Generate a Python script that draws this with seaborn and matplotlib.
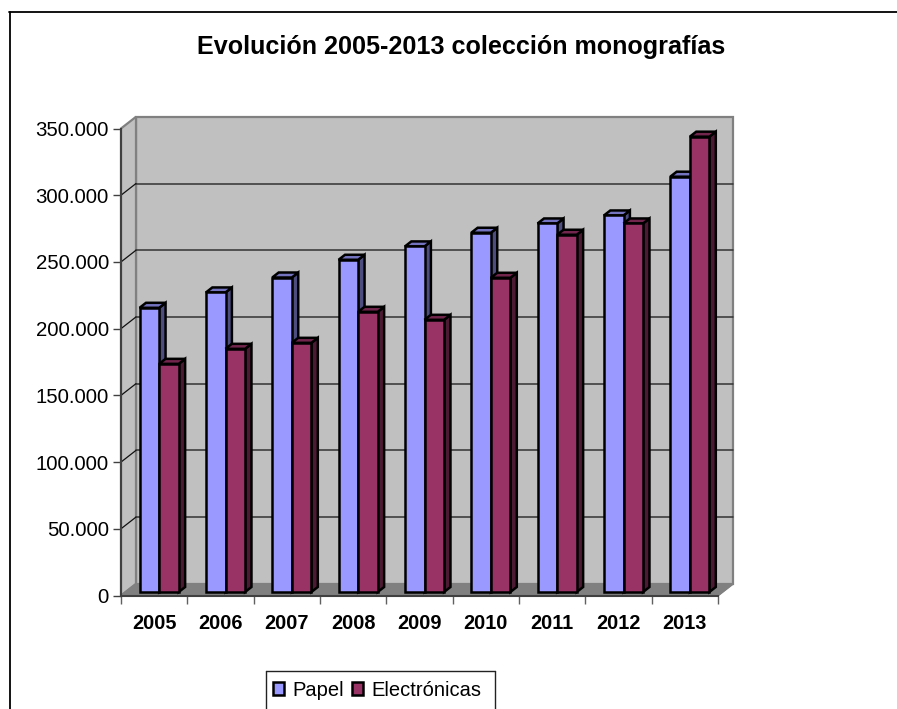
import pandas as pd
import seaborn as sns
import matplotlib
matplotlib.use("Agg")
import matplotlib.pyplot as plt
from matplotlib.lines import Line2D
from matplotlib.patches import Polygon
from matplotlib.transforms import Affine2D, IdentityTransform

# values
years = ["2005", "2006", "2007", "2008", "2009", "2010", "2011", "2012", "2013"]
papel = [213000, 224500, 235700, 249000, 259000, 269250, 276200, 282200, 311250]
electronicas = [171000, 182250, 186750, 210000, 204000, 235500, 267750, 276200, 341250]
y_ticks = [0, 50000, 100000, 150000, 200000, 250000, 300000, 350000]
y_labels = ["0", "50.000", "100.000", "150.000", "200.000", "250.000", "300.000", "350.000"]

W, H = 897, 709
sns.set_style("white")
plt.rcParams["font.family"] = ["Liberation Sans", "DejaVu Sans"]

df = pd.DataFrame({
    "year": years * 2,
    "value": papel + electronicas,
    "serie": ["Papel"] * len(years) + ["Electrónicas"] * len(years),
})

fig = plt.figure(figsize=(W / 100, H / 100), dpi=100, facecolor="white")
ax = fig.add_axes([121 / W, 1 - 595.5 / H, 597 / W, 467 / H])
ax.patch.set_visible(False)

sns.barplot(data=df, x="year", y="value", hue="serie", ax=ax, width=0.59, gap=0,
            palette={"Papel": "#9999FF", "Electrónicas": "#993366"},
            edgecolor="black", linewidth=1.8, saturation=1, legend=True)
ax.set_xlim(-0.5, 8.5)
ax.set_ylim(0, 350000)
ax.set_xlabel("")
ax.set_ylabel("")

# depth of the fake 3d box, in pixels
BOX_DX, BOX_DY = 15, 11.7
BAR_DX, BAR_DY = 6.4, 5
SHIFT_DX, SHIFT_DY = 5.0, 3.5


def to_px(x, y, dx=0, dy=0):
    px, py = ax.transData.transform((x, y))
    return px + dx, py + dy


def poly(pts, face, edge="none", lw=0, z=1):
    ax.add_patch(Polygon(pts, closed=True, facecolor=face, edgecolor=edge, linewidth=lw,
                         transform=IdentityTransform(), clip_on=False, zorder=z))


def line(p, q, color, lw, z=1.2):
    ax.add_line(Line2D([p[0], q[0]], [p[1], q[1]], color=color, linewidth=lw,
                       transform=IdentityTransform(), clip_on=False, zorder=z))


# walls and floor
x0, x1 = -0.5, 8.5
y0, y1 = 0, 350000
poly([to_px(x0, y0, BOX_DX, BOX_DY), to_px(x1, y0, BOX_DX, BOX_DY),
      to_px(x1, y1, BOX_DX, BOX_DY), to_px(x0, y1, BOX_DX, BOX_DY)], "#C0C0C0", "#808080", 1.6, 1)
poly([to_px(x0, y0), to_px(x0, y0, BOX_DX, BOX_DY),
      to_px(x0, y1, BOX_DX, BOX_DY), to_px(x0, y1)], "#C0C0C0", "#808080", 1.6, 1.1)
poly([to_px(x0, y0), to_px(x1, y0), to_px(x1, y0, BOX_DX, BOX_DY),
      to_px(x0, y0, BOX_DX, BOX_DY)], "#808080", "#808080", 1, 1.1)

# gridlines on the back wall, diagonals on the side wall
for t in y_ticks[1:-1]:
    line(to_px(x0, t, BOX_DX, BOX_DY), to_px(x1, t, BOX_DX, BOX_DY), "#333333", 1.1)
    line(to_px(x0, t), to_px(x0, t, BOX_DX, BOX_DY), "#111111", 0.9)

# bars: shift the fronts back a bit and add top and side faces
n = len(years)
shift = ax.transData + Affine2D().translate(SHIFT_DX, SHIFT_DY)
side_cols = ["#4D4D80", "#4D1A33"]
top_cols = ["#7373BF", "#73264D"]
for i, bar in enumerate(ax.patches[:2 * n]):
    s = i // n
    l, r = bar.get_x(), bar.get_x() + bar.get_width()
    h = bar.get_height()
    bar.set_transform(shift)
    bar.set_clip_on(False)
    bar.set_zorder(3 + s)
    bar.set_joinstyle("miter")
    a = to_px(l, h, SHIFT_DX, SHIFT_DY)
    b = to_px(r, h, SHIFT_DX, SHIFT_DY)
    c = to_px(r, 0, SHIFT_DX, SHIFT_DY)
    poly([c, b, (b[0] + BAR_DX, b[1] + BAR_DY), (c[0] + BAR_DX, c[1] + BAR_DY)],
         side_cols[s], "black", 1.8, 2 + s)
    poly([a, b, (b[0] + BAR_DX, b[1] + BAR_DY), (a[0] + BAR_DX, a[1] + BAR_DY)],
         top_cols[s], "black", 1.8, 2 + s)

# axes
sns.despine(ax=ax, top=True, right=True)
for name in ["left", "bottom"]:
    ax.spines[name].set_color("#404040")
    ax.spines[name].set_linewidth(1.5)
    ax.spines[name].set_zorder(1.5)
ax.set_yticks(y_ticks)
ax.set_yticklabels(y_labels, fontsize=14.7, color="black")
ax.tick_params(axis="y", left=True, length=5.8, width=1, color="#404040", pad=3)
ax.set_xticks(range(n))
ax.set_xticklabels(years, fontsize=14.3, fontweight="bold", color="black")
ax.set_xticks([i - 0.5 for i in range(n + 1)], minor=True)
ax.tick_params(axis="x", which="major", bottom=False, length=0, pad=13)
ax.tick_params(axis="x", which="minor", bottom=True, length=5.8, width=1, color="#606060")
line(to_px(x1, 0), to_px(x1, 0, BOX_DX, BOX_DY), "#808080", 1.4, 1.5)

ax.legend(loc="upper left", bbox_to_anchor=(272.5 / W, 1 - 681 / H), bbox_transform=fig.transFigure,
          ncol=2, frameon=False, fontsize=14.5, borderpad=0, borderaxespad=0, labelcolor="black",
          handlelength=0.55, handleheight=0.62, handletextpad=0.42, columnspacing=0.42)

# title and outer frame
fig.text(461 / W, 1 - 47 / H, "Evolución 2005-2013 colección monografías",
         fontsize=18.1, fontweight="bold", ha="center", va="center", color="black")


def frame_line(xs, ys, color="black", lw=1.3):
    fig.add_artist(Line2D(xs, [H - v for v in ys], color=color, linewidth=lw,
                          transform=IdentityTransform()))


frame_line([9.5, 9.5], [11.5, H + 2])
frame_line([9, W + 2], [11.5, 11.5])
frame_line([266, 266], [671, H + 2], "#222222", 1)
frame_line([266, 495], [671, 671], "#222222", 1)
frame_line([495, 495], [671, H + 2], "#222222", 1)

fig.savefig("out.png", dpi=100, facecolor="white")
